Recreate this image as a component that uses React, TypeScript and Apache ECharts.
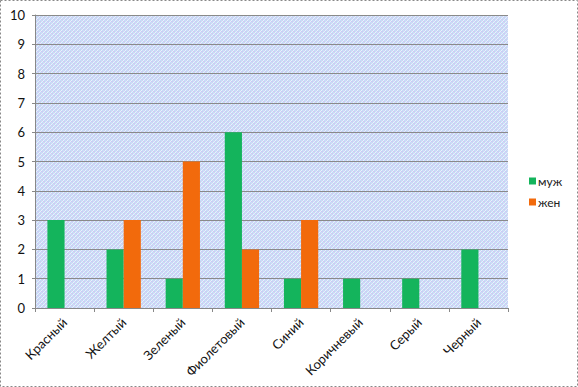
import React, { useEffect, useRef } from "react";
import * as echarts from "echarts";

const categories = ["Красный", "Желтый", "Зеленый", "Фиолетовый", "Синий", "Коричневый", "Серый", "Черный"];
const maleValues = [3, 2, 1, 6, 1, 1, 1, 2];
const femaleValues = [null, 3, 5, 2, 3, null, null, null];
const seriesNames = ["муж", "жен"];
const yTicks = { min: 0, max: 10, interval: 1 };

function makePattern(): string {
  const c = document.createElement("canvas");
  c.width = 4;
  c.height = 4;
  const ctx = c.getContext("2d")!;
  const grid = [
    ["#bce6f6", "#d8d0f6", "#c8d8f6", "#eceefc"],
    ["#d0c8f2", "#c0e8f6", "#e8eafc", "#c8d0f4"],
    ["#c8d8f6", "#eceefc", "#bce6f6", "#d8d0f6"],
    ["#e8eafc", "#c8d0f4", "#d0c8f2", "#c0e8f6"],
  ];
  for (let y = 0; y < 4; y++) {
    for (let x = 0; x < 4; x++) {
      ctx.fillStyle = grid[y][x];
      ctx.fillRect(x, y, 1, 1);
    }
  }
  return c.toDataURL();
}

export default function App() {
  const ref = useRef<HTMLDivElement>(null);
  useEffect(() => {
    document.body.style.margin = "0";
    const chart = echarts.init(ref.current!, undefined, { renderer: "svg" });
    const font = "Lato, 'Liberation Sans', sans-serif";
    const pat = makePattern();
    chart.setOption({
      animation: false,
      backgroundColor: "#ffffff",
      textStyle: { fontFamily: font },
      grid: {
        left: 35,
        right: 70,
        top: 15,
        bottom: 79,
        show: true,
        backgroundColor: { image: pat, repeat: "repeat" } as any,
        borderWidth: 0,
      },
      legend: {
        orient: "vertical",
        left: 529,
        top: 175,
        padding: 0,
        itemWidth: 7,
        itemHeight: 7,
        itemGap: 9,
        icon: "rect",
        textStyle: { fontFamily: font, fontSize: 12, color: "#222", padding: [0, 0, 0, -3] },
        data: seriesNames,
      },
      xAxis: {
        type: "category",
        data: categories,
        axisLine: { show: true, lineStyle: { color: "#888", width: 1 } },
        axisTick: { show: true, length: 4, lineStyle: { color: "#888" } },
        axisLabel: { rotate: 45, fontSize: 13, color: "#111", margin: 12, fontFamily: font, interval: 0 },
      },
      yAxis: {
        type: "value",
        min: yTicks.min,
        max: yTicks.max,
        interval: yTicks.interval,
        axisLine: { show: true, lineStyle: { color: "#888", width: 1 } },
        axisTick: { show: true, length: 3, lineStyle: { color: "#888" } },
        axisLabel: { fontSize: 13, color: "#111", margin: 10, fontFamily: font },
        splitLine: { show: true, lineStyle: { color: "#8a8a8a", width: 1 } },
      },
      series: [
        {
          name: seriesNames[0],
          type: "bar",
          data: maleValues,
          itemStyle: { color: "#14b45c" },
          barGap: "0%",
          barCategoryGap: "42%",
        },
        {
          name: seriesNames[1],
          type: "bar",
          data: femaleValues,
          itemStyle: { color: "#f26a0c" },
          barGap: "0%",
          barCategoryGap: "42%",
        },
      ],
      graphic: [
        {
          type: "rect",
          shape: { x: 0.5, y: 0.5, width: 577, height: 386 },
          style: { fill: "none", stroke: "#888", lineWidth: 1, lineDash: [2, 2] },
          silent: true,
        },
      ],
    });
    return () => chart.dispose();
  }, []);
  return <div ref={ref} style={{ width: 578, height: 387 }} />;
}
